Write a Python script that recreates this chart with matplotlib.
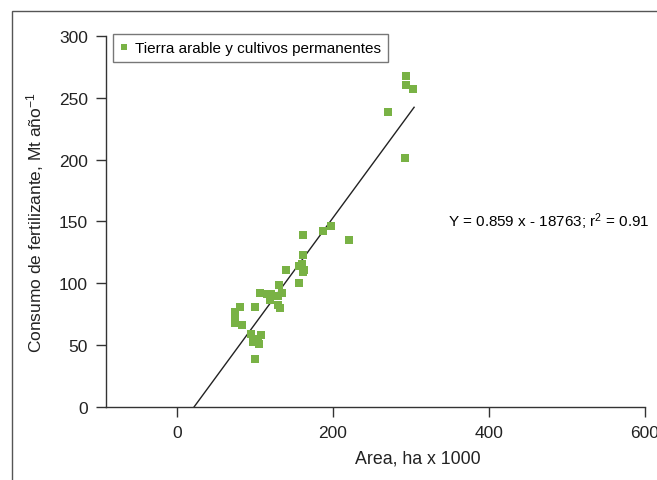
import numpy as np
import matplotlib
matplotlib.use('Agg')
import matplotlib.pyplot as plt
from matplotlib.patches import Rectangle

plt.rcParams['font.family'] = ['Liberation Sans', 'DejaVu Sans']
plt.rcParams['mathtext.fontset'] = 'custom'
plt.rcParams['mathtext.rm'] = 'Liberation Sans'
plt.rcParams['mathtext.it'] = 'Liberation Sans'

# area (ha x 1000) vs fertilizer use (Mt/yr)
area = [293, 293, 302, 271, 292, 198, 187, 220, 161, 161,
        160, 156, 163, 162, 140, 157, 131, 134, 106, 115,
        121, 130, 119, 129, 132, 100, 81, 75, 75, 75,
        75, 83, 95, 108, 104, 97, 105, 100]
consumo = [267.5, 260, 257, 238.5, 201, 146, 142, 135, 139, 123,
           115.5, 114, 111, 109, 110.5, 100, 98.5, 92.5, 92, 91,
           91, 90, 86.5, 82.5, 80, 80.5, 80.5, 77, 74, 70.5,
           68, 66, 59, 58, 55, 52.5, 51, 38.5]

slope = 0.859
intercept = -18.763
r2 = 0.91

serie = 'Tierra arable y cultivos permanentes'
x_ticks = [0, 200, 400, 600]
y_ticks = [0, 50, 100, 150, 200, 250, 300]

verde = '#79b245'
gris = '#333333'

fig = plt.figure(figsize=(6.57, 4.81), dpi=100)
ax = fig.add_axes([106 / 657, 73 / 481, 539 / 657, 371 / 481])

ax.plot(area, consumo, 's', color=verde, markersize=5.8, markeredgewidth=0,
        label=serie, zorder=3)

# fitted line, from where it crosses zero up to the largest area
x0 = -intercept / slope
xl = np.array([x0, max(area) + 2])
ax.plot(xl, slope * xl + intercept, color='#222222', linewidth=1.0, zorder=2)

ax.text(347, 151, 'Y = 0.859 x - 18763; r$^{2}$ = 0.91', fontsize=11,
        ha='left', va='center', clip_on=False)

ax.set_xlim(-91, 600)
ax.set_ylim(0, 300)
ax.set_xticks(x_ticks)
ax.set_yticks(y_ticks)
for s in ['top', 'right']:
    ax.spines[s].set_visible(False)
for s in ['left', 'bottom']:
    ax.spines[s].set_color(gris)
    ax.spines[s].set_linewidth(1.0)
ax.tick_params(direction='out', length=7, width=1, color=gris,
               labelsize=12.5, pad=6, labelcolor='#222222')

ax.set_xlabel('Area, ha x 1000', fontsize=12.8, color='#222222')
ax.xaxis.set_label_coords((418 - 106) / 539, -0.115)
ax.xaxis.label.set_va('top')
ax.set_ylabel('Consumo de fertilizante, Mt año$^{-1}$', fontsize=12.5,
              color='#222222')
ax.yaxis.set_label_coords(-(106 - 46) / 539, 0.5)

leg = ax.legend(loc='upper left', bbox_to_anchor=(7 / 539, 1 + 2 / 371),
                borderaxespad=0, fontsize=11, frameon=True, fancybox=False,
                handlelength=0.5, handletextpad=0.5, borderpad=0.45,
                markerscale=0.75)
leg.get_frame().set_edgecolor('#555555')
leg.get_frame().set_linewidth(1.0)

# outer frame around the whole figure
fig.patches.append(Rectangle((12 / 657, -0.1), 1.2, 1 - 12 / 481 + 0.1,
                             transform=fig.transFigure, fill=False,
                             edgecolor='#555555', linewidth=1.0))

fig.savefig('out.png', dpi=100)
